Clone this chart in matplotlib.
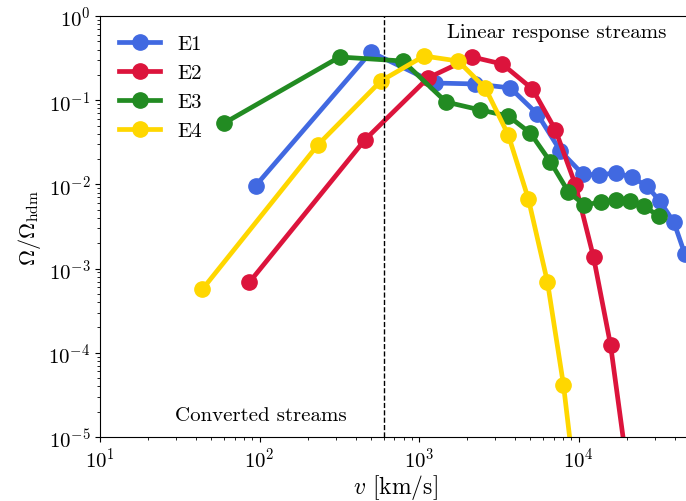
import numpy as np
import matplotlib.pyplot as plt

plt.rcParams['font.family'] = 'serif'
plt.rcParams['font.serif'] = ['cmr10']
plt.rcParams['mathtext.fontset'] = 'cm'
plt.rcParams['axes.formatter.use_mathtext'] = True
plt.rcParams['axes.unicode_minus'] = False

# datos
v_e1 = [94.4, 499, 1262, 2249, 3733, 5520, 7705, 10600, 13360, 17100, 21540, 26800, 32300, 39600, 46400]
om_e1 = [0.0096, 0.373, 0.160, 0.156, 0.140, 0.0686, 0.0249, 0.0133, 0.0129, 0.0137, 0.0122, 0.0096, 0.00635, 0.00357, 0.00149]

v_e2 = [86.5, 457, 1140, 2155, 3325, 5140, 7170, 9570, 12420, 15880, 20300]
om_e2 = [0.00069, 0.0337, 0.184, 0.326, 0.269, 0.136, 0.0443, 0.00984, 0.00137, 0.000124, 4e-6]

v_e3 = [60.2, 318, 793, 1478, 2420, 3630, 4990, 6670, 8650, 10900, 13750, 17100, 20900, 25600, 31900]
om_e3 = [0.0536, 0.326, 0.292, 0.0952, 0.0766, 0.0649, 0.0407, 0.0185, 0.00813, 0.00569, 0.00618, 0.00653, 0.00635, 0.00554, 0.00421]

v_e4 = [43.9, 232, 577, 1075, 1758, 2600, 3630, 4850, 6390, 8050, 9440]
om_e4 = [0.00057, 0.0294, 0.169, 0.335, 0.292, 0.140, 0.0386, 0.00671, 0.00069, 4.15e-5, 3.2e-6]

nombres = ["E1", "E2", "E3", "E4"]
colores = ["royalblue", "crimson", "forestgreen", "gold"]
series = [(v_e1, om_e1), (v_e2, om_e2), (v_e3, om_e3), (v_e4, om_e4)]

fig = plt.figure(figsize=(6.86, 5.02), dpi=100)
ax = fig.add_axes([100/686, 64/502, 590/686, 421/502])

for (v, om), nombre, c in zip(series, nombres, colores):
    ax.plot(v, om, "o-", color=c, lw=3.4, ms=11, label=nombre)

ax.axvline(600, color="k", ls="--", lw=1)

ax.set_xscale("log")
ax.set_yscale("log")
ax.set_xlim(10, 5e4)
ax.set_ylim(1e-5, 1)
ax.set_xlabel(r"$v$ [km/s]", fontsize=17, labelpad=1)
ax.set_ylabel(r"$\Omega/\Omega_{\rm hdm}$", fontsize=16)
ax.tick_params(labelsize=15)
ax.spines["right"].set_visible(False)

ax.text(0.774, 0.962, "Linear response streams", transform=ax.transAxes,
        ha="center", va="center", fontsize=15)
ax.text(0.272, 0.052, "Converted streams", transform=ax.transAxes,
        ha="center", va="center", fontsize=15)

ax.legend(loc="upper left", frameon=False, fontsize=15, handlelength=2.0,
          labelspacing=0.5, borderaxespad=0.5)

fig.savefig("out.png", dpi=100)
